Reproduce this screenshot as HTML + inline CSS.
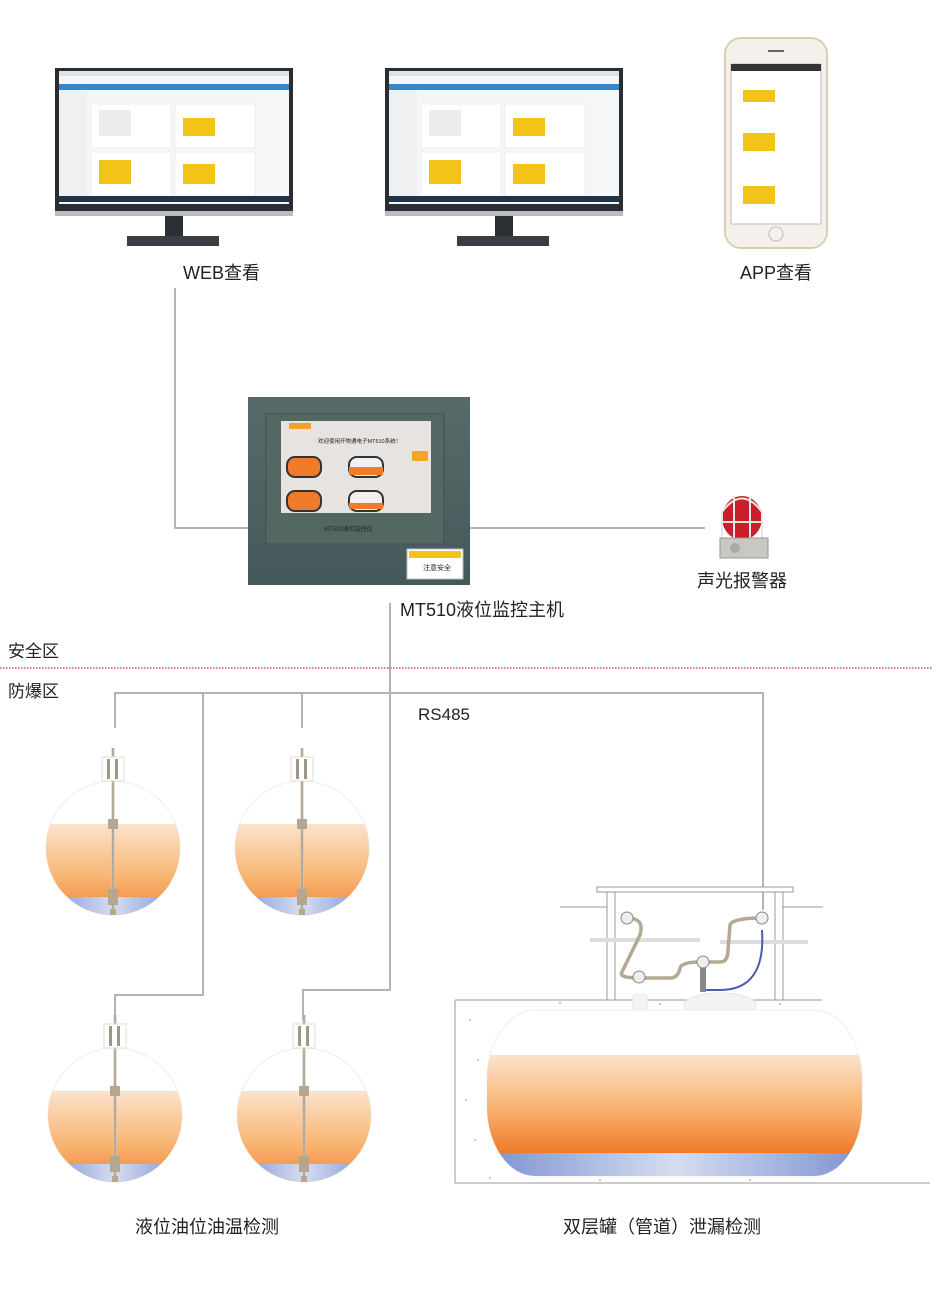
<!DOCTYPE html>
<html><head><meta charset="utf-8">
<style>
html,body{margin:0;padding:0;background:#fff;}
svg{display:block;}
text{font-family:"Liberation Sans","Noto Sans CJK SC",sans-serif;fill:#222;}
</style></head><body>
<svg width="950" height="1298" viewBox="0 0 950 1298" xmlns="http://www.w3.org/2000/svg">
<defs>
<linearGradient id="oil" x1="0" y1="0" x2="0" y2="1">
<stop offset="0" stop-color="#fbe3cc"/><stop offset="0.5" stop-color="#f8b877"/><stop offset="1" stop-color="#f07a2a"/>
</linearGradient>
<linearGradient id="wat" x1="0" y1="0" x2="1" y2="0">
<stop offset="0" stop-color="#7a8fd0"/><stop offset="0.5" stop-color="#d6ddf0"/><stop offset="1" stop-color="#7a8fd0"/>
</linearGradient>
<linearGradient id="boxg" x1="0" y1="0" x2="0" y2="1">
<stop offset="0" stop-color="#566b69"/><stop offset="1" stop-color="#45595a"/>
</linearGradient>
<clipPath id="circ"><circle cx="0" cy="0" r="67"/></clipPath>
<clipPath id="bigtank"><rect x="487" y="1010" width="375" height="166" rx="48" ry="70"/></clipPath>
<g id="tank">
<circle cx="0" cy="0" r="67" fill="none" stroke="#eee" stroke-width="1"/>
<g clip-path="url(#circ)">
<rect x="-70" y="-24" width="140" height="100" fill="url(#oil)"/>
<rect x="-70" y="49" width="140" height="30" fill="url(#wat)"/>
</g>
<line x1="0" y1="-100" x2="0" y2="67" stroke="#cfc6b8" stroke-width="3"/>
<line x1="0" y1="-100" x2="0" y2="67" stroke="#8a8274" stroke-width="0.8"/>
<rect x="-11" y="-91" width="22" height="24" fill="#fff" stroke="#ddd"/>
<rect x="-6" y="-89" width="3" height="20" fill="#a09686"/>
<rect x="2" y="-89" width="3" height="20" fill="#a09686"/>
<rect x="-5" y="-29" width="10" height="10" fill="#b5a78f"/>
<rect x="-5" y="41" width="10" height="16" fill="#b5a78f"/>
<rect x="-3" y="61" width="6" height="6" fill="#b5a78f"/>
</g>
<g id="mon">
<rect x="0" y="0" width="238" height="143" fill="#2a2e33"/>
<rect x="4" y="3" width="230" height="133" fill="#f4f6f8"/>
<rect x="4" y="3" width="230" height="5" fill="#dfe3e8"/>
<rect x="4" y="16" width="230" height="6" fill="#3a86c4"/>
<rect x="4" y="22" width="28" height="108" fill="#eef0f2"/>
<rect x="36" y="36" width="80" height="44" fill="#fff" stroke="#eee"/>
<rect x="120" y="36" width="80" height="44" fill="#fff" stroke="#eee"/>
<rect x="36" y="84" width="80" height="44" fill="#fff" stroke="#eee"/>
<rect x="120" y="84" width="80" height="44" fill="#fff" stroke="#eee"/>
<rect x="44" y="42" width="32" height="26" fill="#ececec"/>
<rect x="128" y="50" width="32" height="18" fill="#f2c318"/>
<rect x="44" y="92" width="32" height="24" fill="#f2c318"/>
<rect x="128" y="96" width="32" height="20" fill="#f2c318"/>
<rect x="4" y="128" width="230" height="6" fill="#1f3448"/>
<rect x="0" y="143" width="238" height="5" fill="#b8bcc0"/>
<rect x="110" y="148" width="18" height="22" fill="#2c2f33"/>
<rect x="72" y="168" width="92" height="10" fill="#3a3d42"/>
</g>
</defs>

<!-- monitors -->
<use href="#mon" x="55" y="68"/>
<use href="#mon" x="385" y="68"/>

<!-- phone -->
<rect x="725" y="38" width="102" height="210" rx="16" fill="#f5f1ea" stroke="#d9cdb8" stroke-width="2"/>
<rect x="731" y="64" width="90" height="160" fill="#fff" stroke="#bbb"/>
<rect x="731" y="64" width="90" height="7" fill="#333"/>
<rect x="743" y="90" width="32" height="12" fill="#f2c318"/>
<rect x="743" y="133" width="32" height="18" fill="#f2c318"/>
<rect x="743" y="186" width="32" height="18" fill="#f2c318"/>
<circle cx="776" cy="234" r="7" fill="none" stroke="#bbb"/>
<rect x="768" y="50" width="16" height="2" fill="#666"/>

<text x="183" y="279" font-size="18">WEB查看</text>
<text x="740" y="279" font-size="18">APP查看</text>

<!-- connectors -->
<g stroke="#b3b3b3" stroke-width="2" fill="none">
<polyline points="175,288 175,528 248,528"/>
<line x1="470" y1="528" x2="705" y2="528"/>
<polyline points="390,603 390,990 303,990 303,1020"/>
<polyline points="115,728 115,693 763,693 763,910"/>
<polyline points="203,693 203,995 115,995 115,1020"/>
<line x1="302" y1="693" x2="302" y2="728"/>
</g>

<!-- control box -->
<rect x="248" y="397" width="222" height="188" fill="url(#boxg)"/>
<rect x="266" y="414" width="178" height="130" fill="#536763" stroke="#3f504f"/>
<rect x="281" y="421" width="150" height="92" fill="#e7e3e0"/>
<rect x="289" y="423" width="22" height="6" fill="#f0a030"/>
<text x="318" y="443" font-size="5.5" fill="#333">欢迎使用开物通电子MT510系统！</text>
<rect x="287" y="457" width="34" height="20" rx="8" fill="#f07b2a" stroke="#333" stroke-width="2"/>
<rect x="349" y="457" width="34" height="20" rx="8" fill="#f0f0f0" stroke="#333" stroke-width="2"/>
<rect x="349" y="467" width="34" height="8" fill="#f07b2a"/>
<rect x="287" y="491" width="34" height="20" rx="8" fill="#f07b2a" stroke="#333" stroke-width="2"/>
<rect x="349" y="491" width="34" height="20" rx="8" fill="#f0f0f0" stroke="#333" stroke-width="2"/>
<rect x="349" y="503" width="34" height="6" fill="#f07b2a"/>
<rect x="412" y="451" width="16" height="10" fill="#f5a623"/>
<text x="324" y="531" font-size="6" fill="#cfd8d6">MT510液位监控仪</text>
<rect x="407" y="549" width="56" height="30" fill="#fff" stroke="#bbb"/>
<rect x="409" y="551" width="52" height="7" fill="#f2c318"/>
<text x="423" y="570" font-size="7" fill="#333">注意安全</text>

<!-- alarm -->
<ellipse cx="742" cy="518" rx="20" ry="22" fill="#c8202a"/>
<g stroke="#e8e6e2" stroke-width="2" fill="none">
<path d="M722,540 L722,512 Q742,485 762,512 L762,540"/>
<line x1="734" y1="496" x2="734" y2="540"/><line x1="750" y1="496" x2="750" y2="540"/>
<line x1="722" y1="522" x2="762" y2="522"/>
</g>
<rect x="720" y="538" width="48" height="20" fill="#c9c7c2" stroke="#999"/>
<circle cx="735" cy="548" r="5" fill="#aaa"/>
<text x="697" y="587" font-size="18">声光报警器</text>
<text x="400" y="616" font-size="18">MT510液位监控主机</text>

<!-- zones -->
<text x="8" y="657" font-size="17">安全区</text>
<line x1="0" y1="668" x2="932" y2="668" stroke="#d05050" stroke-width="1.5" stroke-dasharray="1.5,1.5"/>
<text x="8" y="697" font-size="17">防爆区</text>
<text x="418" y="720" font-size="17">RS485</text>

<!-- tanks -->
<use href="#tank" x="113" y="848"/>
<use href="#tank" x="302" y="848"/>
<use href="#tank" x="115" y="1115"/>
<use href="#tank" x="304" y="1115"/>

<!-- double layer tank -->
<g stroke="#999" stroke-width="1" fill="none">
<rect x="597" y="887" width="196" height="5" fill="#fff"/>
<line x1="560" y1="907" x2="607" y2="907"/><line x1="782" y1="907" x2="823" y2="907"/>
<rect x="607" y="892" width="8" height="108"/>
<rect x="775" y="892" width="8" height="108"/>
<polyline points="455,1000 455,1183 930,1183"/>
<line x1="455" y1="1000" x2="822" y2="1000"/>
</g>
<g stroke="#ddd" stroke-width="4" fill="none">
<line x1="590" y1="940" x2="700" y2="940"/><line x1="720" y1="942" x2="808" y2="942"/>
</g>
<path d="M627,918 Q645,918 640,935 L622,972 Q618,978 640,978 L670,978 Q678,978 680,968 Q682,962 700,962 L720,962 Q728,962 728,950 L730,925 Q732,918 762,918" stroke="#b4a892" stroke-width="3.5" fill="none"/>
<path d="M762,930 Q766,990 720,990 L700,990" stroke="#4d5cb0" stroke-width="2" fill="none"/>
<g fill="#eee" stroke="#888"><circle cx="627" cy="918" r="6"/><circle cx="762" cy="918" r="6"/><circle cx="639" cy="977" r="6"/><circle cx="703" cy="962" r="6"/></g>
<rect x="700" y="968" width="6" height="24" fill="#888"/>
<ellipse cx="720" cy="1005" rx="36" ry="12" fill="#f3f3f3" stroke="#e6e6e6"/>
<rect x="633" y="995" width="14" height="15" fill="#f3f3f3" stroke="#e6e6e6"/>
<rect x="487" y="1010" width="375" height="166" rx="48" ry="70" fill="#fff" stroke="#eee"/>
<g clip-path="url(#bigtank)">
<rect x="480" y="1055" width="390" height="98" fill="url(#oil)"/>
<rect x="480" y="1153" width="390" height="25" fill="url(#wat)"/>
</g>
<g fill="#888">
<circle cx="470" cy="1020" r="0.8"/><circle cx="478" cy="1060" r="0.8"/><circle cx="466" cy="1100" r="0.8"/><circle cx="475" cy="1140" r="0.8"/><circle cx="490" cy="1178" r="0.8"/><circle cx="560" cy="1003" r="0.8"/><circle cx="660" cy="1004" r="0.8"/><circle cx="780" cy="1004" r="0.8"/><circle cx="600" cy="1180" r="0.8"/><circle cx="750" cy="1180" r="0.8"/>
</g>

<text x="135" y="1233" font-size="18">液位油位油温检测</text>
<text x="563" y="1233" font-size="18">双层罐（管道）泄漏检测</text>
</svg>
</body></html>
